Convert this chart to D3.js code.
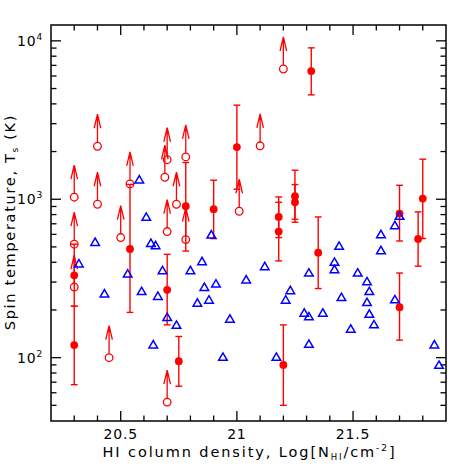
<!DOCTYPE html>
<html>
<head>
<meta charset="utf-8">
<script src="https://cdn.jsdelivr.net/npm/d3@7"></script>
<style>
  body { margin: 0; background: #fff; }
  svg text { font-family: "DejaVu Sans", sans-serif; fill: #000; }
</style>
</head>
<body>
<svg width="471" height="471"></svg>
<script>
// blue triangles: log N(HI) and spin temperature (K)
const triN = [20.32,20.39,20.43,20.53,20.58,20.59,20.61,20.63,20.65,20.64,20.66,20.68,20.70,20.74,20.80,20.85,20.86,20.91,20.83,20.88,20.89,20.97,20.94,21.04,21.12,21.17,21.21,21.23,21.29,21.31,21.31,21.31,21.37,21.42,21.42,21.44,21.45,21.49,21.52,21.56,21.57,21.56,21.57,21.59,21.62,21.62,21.68,21.68,21.70,21.85,21.87]
const triT = [393,537,254,339,1332,263,773,529,512,121,245,356,180,161,356,406,279,293,222,232,598,176,101,311,377,101,232,266,192,344,182,122,192,402,361,507,241,152,344,303,263,224,189,162,601,476,233,685,785,121,90]

// red filled points with error bars
const detN  = [20.30,20.30,20.54,20.70,20.75,20.78,20.90,21.00,21.32,21.18,21.18,21.25,21.25,21.35,21.20,21.70,21.70,21.78,21.80]
const detT  = [120,331,485,268,95,904,865,2134,6440,773,625,1045,957,460,90,208,812,561,1010]
const detLo = [67.5,211,193,161,66,471,564,1157,4560,573,408,716,748,273,50,129,545,378,565]
const detHi = [211,520,1240,449,136,1706,1318,3926,9030,1034,957,1525,1238,773,161,342,1225,832,1790]

// red open circles: lower limits
const limN = [20.30,20.40,20.40,20.54,20.50,20.69,20.70,20.70,20.74,20.78,20.78,21.01,21.10,21.20,20.30,20.30,20.45,20.70]
const limT = [1030,2160,930,1250,573,1377,1776,625,930,1850,556,840,2175,6640,520,279,100,52.4]

const xMajor = [20.5, 21, 21.5]
const xLabels = ['20.5', '21', '21.5']
const yMajor = [100, 1000, 10000]
const yExp = ['2', '3', '4']

const pL = 51, pR = 446, pT = 25, pB = 421
const red = '#ff0000', blue = '#0000ff'

const svg = d3.select('svg')

const x = d3.scaleLinear().domain([20.2, 21.9]).range([pL, pR])
const y = d3.scaleLog().domain([Math.pow(10, 1.6), Math.pow(10, 4.1)]).range([pB, pT])

// minor ticks
const xMinor = d3.range(20.3, 21.85, 0.1).map(v => +v.toFixed(1))
  .filter(v => !xMajor.includes(v))
const yMinor = []
;[10, 100, 1000, 10000].forEach(p => {
  for (let k = 2; k <= 9; k++) {
    const v = k * p
    if (v > 41 && v < 12500) yMinor.push(v)
  }
})

const ticks = svg.append('g').attr('stroke', '#000').attr('stroke-width', 1.3)

xMinor.forEach(v => {
  ticks.append('line').attr('x1', x(v)).attr('x2', x(v)).attr('y1', pB).attr('y2', pB - 5.5)
  ticks.append('line').attr('x1', x(v)).attr('x2', x(v)).attr('y1', pT).attr('y2', pT + 5.5)
})
xMajor.forEach(v => {
  ticks.append('line').attr('x1', x(v)).attr('x2', x(v)).attr('y1', pB).attr('y2', pB - 10)
  ticks.append('line').attr('x1', x(v)).attr('x2', x(v)).attr('y1', pT).attr('y2', pT + 10)
})
yMinor.forEach(v => {
  ticks.append('line').attr('x1', pL).attr('x2', pL + 5.5).attr('y1', y(v)).attr('y2', y(v))
  ticks.append('line').attr('x1', pR).attr('x2', pR - 5.5).attr('y1', y(v)).attr('y2', y(v))
})
yMajor.forEach(v => {
  ticks.append('line').attr('x1', pL).attr('x2', pL + 10).attr('y1', y(v)).attr('y2', y(v))
  ticks.append('line').attr('x1', pR).attr('x2', pR - 10).attr('y1', y(v)).attr('y2', y(v))
})

svg.append('rect')
  .attr('x', pL).attr('y', pT)
  .attr('width', pR - pL).attr('height', pB - pT)
  .attr('fill', 'none').attr('stroke', '#000').attr('stroke-width', 1.5)

// tick labels
svg.selectAll('text.xt')
  .data(xMajor)
  .enter()
  .append('text')
  .attr('class', 'xt')
  .attr('x', d => x(d))
  .attr('y', 439)
  .attr('text-anchor', 'middle')
  .attr('font-size', 14)
  .attr('letter-spacing', 0.8)
  .text((d, i) => xLabels[i])

const yt = svg.selectAll('text.yt')
  .data(yMajor)
  .enter()
  .append('text')
  .attr('class', 'yt')
  .attr('x', 43)
  .attr('y', d => y(d) + 5)
  .attr('text-anchor', 'end')
  .attr('font-size', 14)
  .attr('letter-spacing', 0.8)
yt.append('tspan').text('10')
yt.append('tspan').attr('font-size', 9).attr('dy', -6).text((d, i) => yExp[i])

// axis titles
const xt = svg.append('text')
  .attr('x', (pL + pR) / 2 + 1)
  .attr('y', 457)
  .attr('text-anchor', 'middle')
  .attr('font-size', 14.5)
  .attr('letter-spacing', 1.9)
xt.append('tspan').text('HI column density, Log[N')
xt.append('tspan').attr('font-size', 8.5).attr('dy', 3).text('HI')
xt.append('tspan').attr('dy', -3).text('/cm')
xt.append('tspan').attr('font-size', 9).attr('dy', -6).text('-2')
xt.append('tspan').attr('dy', 6).text(']')

const ytl = svg.append('text')
  .attr('transform', `translate(15,${(pT + pB) / 2 - 1}) rotate(-90)`)
  .attr('text-anchor', 'middle')
  .attr('font-size', 14.5)
  .attr('letter-spacing', 1.7)
ytl.append('tspan').text('Spin temperature, T')
ytl.append('tspan').attr('font-size', 9).attr('dy', 3).text('s')
ytl.append('tspan').attr('dy', -3).text(' (K)')

// error bars
const det = detN.map((n, i) => ({ n, t: detT[i], lo: detLo[i], hi: detHi[i] }))
const eb = svg.append('g').attr('stroke', red).attr('stroke-width', 1.4)
det.forEach(d => {
  const cx = x(d.n)
  eb.append('line').attr('x1', cx).attr('x2', cx).attr('y1', y(d.lo)).attr('y2', y(d.hi))
  eb.append('line').attr('x1', cx - 3.4).attr('x2', cx + 3.4).attr('y1', y(d.lo)).attr('y2', y(d.lo))
  eb.append('line').attr('x1', cx - 3.4).attr('x2', cx + 3.4).attr('y1', y(d.hi)).attr('y2', y(d.hi))
})

svg.append('g')
  .selectAll('circle')
  .data(det)
  .enter()
  .append('circle')
  .attr('cx', d => x(d.n))
  .attr('cy', d => y(d.t))
  .attr('r', 3.9)
  .attr('fill', red)

// lower limits
const lim = limN.map((n, i) => ({ n, t: limT[i] }))
const limG = svg.append('g')
  .selectAll('g')
  .data(lim)
  .enter()
  .append('g')
  .attr('transform', d => `translate(${x(d.n)},${y(d.t)})`)
  .attr('stroke', red)
  .attr('stroke-width', 1.3)
  .attr('fill', 'none')

limG.append('circle').attr('r', 3.8)
limG.append('path').attr('d', 'M0,-3.8 V-32 M-3.3,-18 L0,-32 L3.3,-18')

// triangles
svg.append('g')
  .selectAll('path')
  .data(triN.map((n, i) => ({ n, t: triT[i] })))
  .enter()
  .append('path')
  .attr('transform', d => `translate(${x(d.n)},${y(d.t)})`)
  .attr('d', 'M-4.3,3.4 L4.3,3.4 L0,-4 Z')
  .attr('fill', 'none')
  .attr('stroke', blue)
  .attr('stroke-width', 1.5)
</script>
</body>
</html>
